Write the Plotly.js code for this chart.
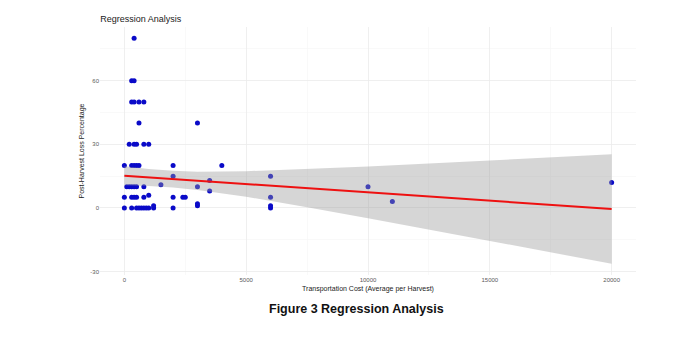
<!DOCTYPE html>
<html>
<head>
<meta charset="utf-8">
<script src="https://cdn.plot.ly/plotly-3.0.1.min.js"></script>
<style>html,body{margin:0;padding:0;background:#fff;}#chart{width:691px;height:357px;}</style>
</head>
<body>
<div id="chart"></div>
<script>
// Scatter data: transportation cost vs post-harvest loss percentage
const costX = [400,
  300,400,
  300,400,600,800,
  600,3000,
  200,400,500,800,1000,
  0,300,400,500,600,2000,4000,
  2000,6000,
  3500,
  100,200,300,400,500,800,1500,3000,10000,
  3500,
  0,300,400,500,800,1000,2000,2400,2500,6000,
  11000,20000,
  0,300,500,600,700,800,900,1000,1200,1200,2000,3000,3000,6000,6000];
const lossY = [80,
  60,60,
  50,50,50,50,
  40,40,
  30,30,30,30,30,
  20,20,20,20,20,20,20,
  15,15,
  13,
  10,10,10,10,10,10,11,10,10,
  8,
  5,5,5,5,5,6,5,5,5,5,
  3,12,
  0,0,0,0,0,0,0,0,0,1,0,1,2,0,1];

// Fitted regression line and confidence band
const fitX  = [0, 1000, 2000, 3000, 5000, 7500, 10000, 12500, 15000, 17500, 20000];
const fitY  = [15.2, 14.4, 13.6, 12.8, 11.3, 9.3, 7.4, 5.4, 3.4, 1.5, -0.5];
const ciHi  = [19.7, 18.4, 17.5, 17.1, 17.3, 18.3, 19.6, 20.9, 22.3, 23.9, 25.3];
const ciLo  = [10.7, 10.4, 9.7, 8.5, 5.3, 0.3, -4.8, -10.1, -15.5, -20.9, -26.3];

const xTicks = [0, 5000, 10000, 15000, 20000];
const yTicks = [-30, 0, 30, 60];

const traces = [
  {x: costX, y: lossY, type: 'scatter', mode: 'markers',
   marker: {color: '#0a0ac8', size: 5}, hoverinfo: 'x+y'},
  {x: fitX.concat(fitX.slice().reverse()), y: ciHi.concat(ciLo.slice().reverse()),
   type: 'scatter', mode: 'lines', fill: 'toself',
   fillcolor: 'rgba(153,153,153,0.4)', line: {width: 0}, hoverinfo: 'skip'},
  {x: fitX, y: fitY, type: 'scatter', mode: 'lines',
   line: {color: '#ee1111', width: 2}}
];

const axisFont = {family: 'Liberation Sans, Arial, sans-serif', size: 6, color: '#5a5a5a'};

const layout = {
  width: 691, height: 357,
  margin: {l: 100, r: 55, t: 27, b: 82},
  paper_bgcolor: '#ffffff', plot_bgcolor: '#ffffff',
  showlegend: false,
  title: {text: 'Regression Analysis', x: 0.145, xanchor: 'left', y: 0.947, yanchor: 'middle',
          font: {family: 'Liberation Sans, Arial, sans-serif', size: 9, color: '#1a1a1a'}},
  xaxis: {range: [-1000, 21000], tickvals: xTicks, ticktext: xTicks.map(String),
          showgrid: true, gridcolor: '#ebebeb', gridwidth: 0.8, zeroline: false, showline: false,
          ticks: '', tickfont: axisFont,
          minor: {tickvals: [2500, 7500, 12500, 17500], showgrid: true, gridcolor: '#f5f5f5', gridwidth: 0.6},
          title: {text: 'Transportation Cost (Average per Harvest)', standoff: 4,
                  font: {family: 'Liberation Sans, Arial, sans-serif', size: 7, color: '#1a1a1a'}},
          automargin: false},
  yaxis: {range: [-31.6, 85.3], tickvals: yTicks, ticktext: yTicks.map(String),
          showgrid: true, gridcolor: '#ebebeb', gridwidth: 0.8, zeroline: false, showline: false,
          ticks: '', tickfont: axisFont,
          minor: {tickvals: [-15, 15, 45, 75], showgrid: true, gridcolor: '#f5f5f5', gridwidth: 0.6},
          title: {text: 'Post-Harvest Loss Percentage', standoff: 4,
                  font: {family: 'Liberation Sans, Arial, sans-serif', size: 7, color: '#1a1a1a'}},
          automargin: false},
  annotations: [
    {text: '<b>Figure 3 Regression Analysis</b>', xref: 'paper', yref: 'paper',
     x: 0.478, y: -0.137, xanchor: 'center', yanchor: 'middle', showarrow: false,
     font: {family: 'Liberation Sans, Arial, sans-serif', size: 12.5, color: '#111111'}}
  ]
};

Plotly.newPlot('chart', traces, layout, {displayModeBar: false, staticPlot: true});
</script>
</body>
</html>
